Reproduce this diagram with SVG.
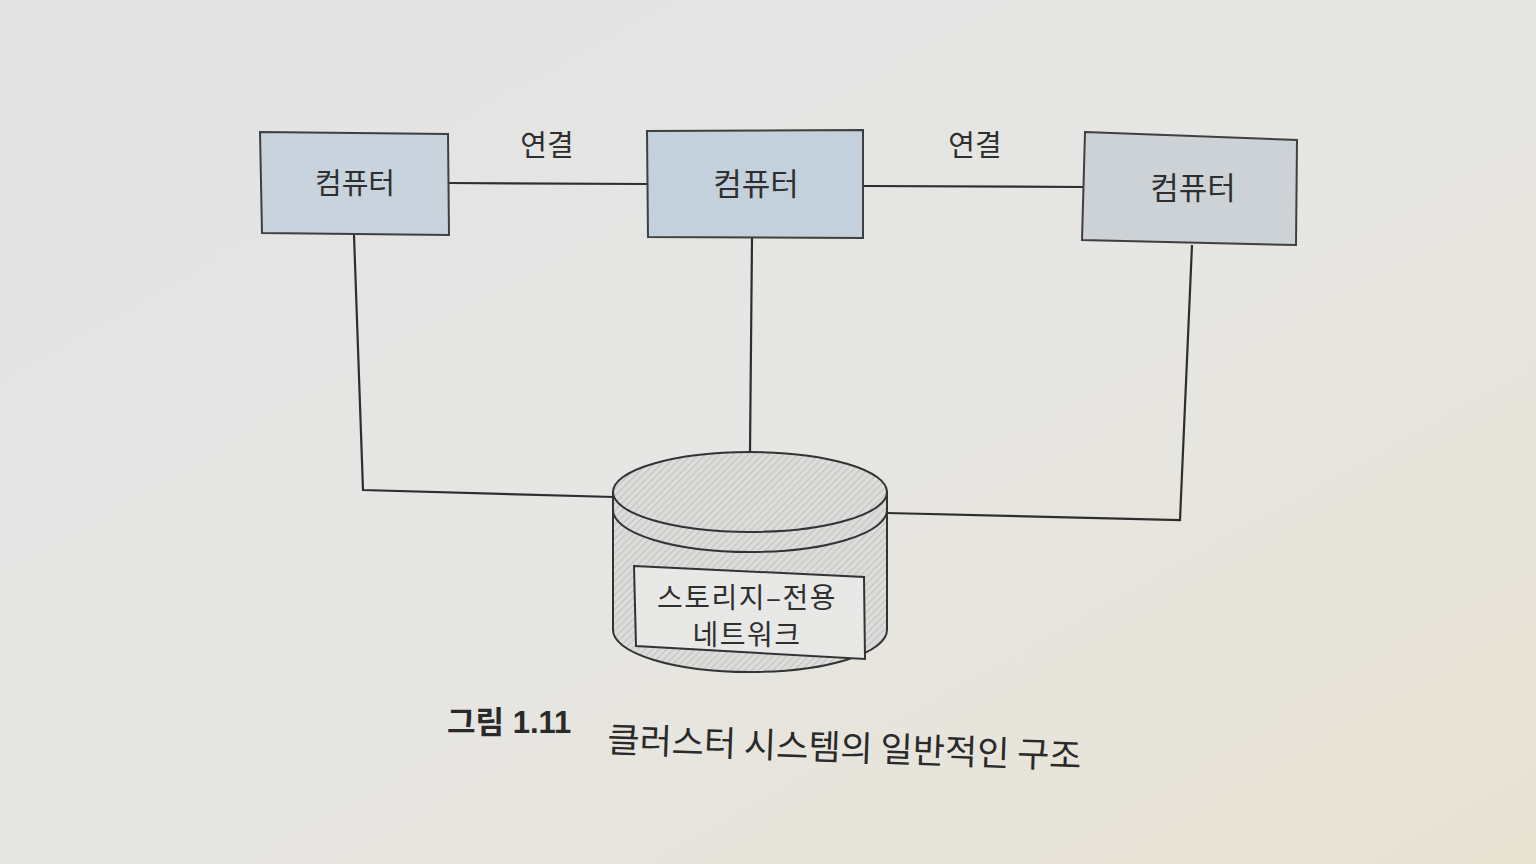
<svg xmlns="http://www.w3.org/2000/svg" width="1536" height="864" viewBox="0 0 1536 864">
<defs>
<linearGradient id="bg" x1="0" y1="0" x2="1" y2="1">
<stop offset="0" stop-color="#e2e3e3"/>
<stop offset="0.5" stop-color="#e6e6e4"/>
<stop offset="1" stop-color="#e8e2d2"/>
</linearGradient>
<pattern id="hatch" width="5" height="5" patternUnits="userSpaceOnUse" patternTransform="rotate(45)">
<rect width="5" height="5" fill="#dcdcda"/>
<line x1="0" y1="0" x2="0" y2="5" stroke="#b8b8b6" stroke-width="1.5"/>
</pattern>
<style>
.box{stroke:#3f3f3f;stroke-width:2}
.ln{stroke:#2e2e2e;stroke-width:2.2;fill:none}
.t{font-family:"Noto Sans CJK KR","Noto Sans",sans-serif;fill:#2f2f2f;text-anchor:middle}
.cyl{stroke:#333;stroke-width:2}
</style>
</defs>
<rect width="1536" height="864" fill="url(#bg)"/>
<g id="connectors">
<line class="ln" x1="449" y1="183" x2="647" y2="184"/>
<line class="ln" x1="863" y1="186" x2="1083" y2="187"/>
<polyline class="ln" points="354,235 363,490 614,497"/>
<line class="ln" x1="752" y1="238" x2="750" y2="453"/>
<polyline class="ln" points="1192,245 1180,520 887,513"/>
</g>
<g id="label1"><text class="t" x="547" y="156" font-size="29">연결</text></g>
<g id="label2"><text class="t" x="975" y="156" font-size="29">연결</text></g>
<g id="computer1">
<polygon class="box" points="260,132 448,134 449,235 262,233" fill="#c8d3de"/>
<text class="t" x="355" y="194" font-size="29">컴퓨터</text>
</g>
<g id="computer2">
<polygon class="box" points="647,131 863,130 863,238 648,237" fill="#c4d0dc"/>
<text class="t" x="756" y="195" font-size="31">컴퓨터</text>
</g>
<g id="computer3">
<polygon class="box" points="1085,132 1297,140 1296,245 1082,240" fill="#cdd2d6"/>
<text class="t" x="1193" y="199" font-size="31">컴퓨터</text>
</g>
<g id="storage">
<path class="cyl" d="M613,492 L613,630 A137,42 0 0 0 887,630 L887,492 Z" fill="url(#hatch)"/>
<path class="cyl" d="M613,510 A137,42 0 0 0 887,510" fill="none"/>
<ellipse class="cyl" cx="750" cy="492" rx="137" ry="40" fill="url(#hatch)"/>
<polygon points="634,566 864,577 865,659 636,646" fill="#e8e8e6" stroke="#333" stroke-width="2"/>
<text class="t" x="747" y="608" font-size="28" letter-spacing="1.5">스토리지–전용</text>
<text class="t" x="747" y="645" font-size="28" letter-spacing="1.5">네트워크</text>
</g>
<g id="caption">
<text x="447" y="733" font-family="Liberation Sans, 'Noto Sans CJK KR', sans-serif" font-weight="bold" font-size="31" fill="#2a2a2a">그림 1.11</text>
<text x="607" y="752" font-family="'Noto Sans CJK KR', sans-serif" font-size="35" fill="#2a2a2a" transform="rotate(2 607 752)">클러스터 시스템의 일반적인 구조</text>
</g>
</svg>
